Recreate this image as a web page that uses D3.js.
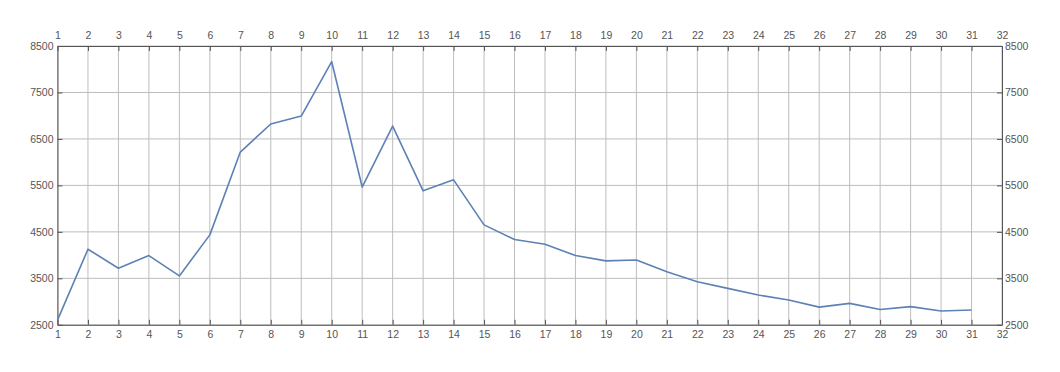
<!DOCTYPE html>
<html>
<head>
<meta charset="utf-8">
<script src="https://cdn.jsdelivr.net/npm/d3@7"></script>
<style>
  body { margin: 0; background: #fff; }
  svg text { font-family: "Liberation Sans", Arial, sans-serif; font-size: 10.5px; fill: #555; }
</style>
</head>
<body>
<svg id="chart"></svg>
<script>
// values
var days   = d3.range(1, 32);
var values = [2600, 4127, 3718, 3989, 3552, 4435, 6218, 6821, 6992, 8162,
              5465, 6777, 5383, 5620, 4650, 4334, 4235, 3990, 3875, 3894,
              3642, 3427, 3284, 3140, 3032, 2881, 2961, 2828, 2892, 2798, 2819];
var xTicks = d3.range(1, 33);
var yTicks = [2500, 3500, 4500, 5500, 6500, 7500, 8500];

var W = 1060, H = 372;
var m = { left: 57.5, right: 1060 - 1002, top: 46, bottom: 372 - 324.8 };

var svg = d3.select("#chart").attr("width", W).attr("height", H);

var x = d3.scaleLinear().domain([1, 32]).range([m.left, W - m.right]);
var y = d3.scaleLinear().domain([2500, 8500]).range([H - m.bottom, m.top]);
var fmt = d3.format("d");

// grid
svg.append("g").selectAll("line").data(xTicks).enter().append("line")
    .attr("x1", d => x(d)).attr("x2", d => x(d))
    .attr("y1", m.top).attr("y2", H - m.bottom)
    .attr("stroke", "#bdbdbd").attr("stroke-width", 1);
svg.append("g").selectAll("line").data(yTicks).enter().append("line")
    .attr("x1", m.left).attr("x2", W - m.right)
    .attr("y1", d => y(d)).attr("y2", d => y(d))
    .attr("stroke", "#bdbdbd").attr("stroke-width", 1);

// axes on all four sides, ticks pointing inward
function style(g) {
    g.attr("font-family", null).attr("font-size", null);
    g.select(".domain").attr("stroke", "#555");
    g.selectAll(".tick line").attr("stroke", "#555");
    g.selectAll(".tick text").attr("fill", "#555");
}
svg.append("g").attr("transform", "translate(0," + m.top + ")")
    .call(d3.axisTop(x).tickValues(xTicks).tickFormat(fmt).tickSize(-5).tickSizeOuter(0).tickPadding(7))
    .call(style);
svg.append("g").attr("transform", "translate(0," + (H - m.bottom) + ")")
    .call(d3.axisBottom(x).tickValues(xTicks).tickFormat(fmt).tickSize(-5).tickSizeOuter(0).tickPadding(6))
    .call(style);
svg.append("g").attr("transform", "translate(" + m.left + ",0)")
    .call(d3.axisLeft(y).tickValues(yTicks).tickFormat(fmt).tickSize(-5).tickSizeOuter(0).tickPadding(4))
    .call(style);
svg.append("g").attr("transform", "translate(" + (W - m.right) + ",0)")
    .call(d3.axisRight(y).tickValues(yTicks).tickFormat(fmt).tickSize(-5).tickSizeOuter(0).tickPadding(3))
    .call(style);

// series
var line = d3.line().x((d, i) => x(days[i])).y(d => y(d));
svg.append("path").datum(values)
    .attr("d", line)
    .attr("fill", "none")
    .attr("stroke", "#5e81b5")
    .attr("stroke-width", 1.6)
    .attr("stroke-linejoin", "round");
</script>
</body>
</html>
